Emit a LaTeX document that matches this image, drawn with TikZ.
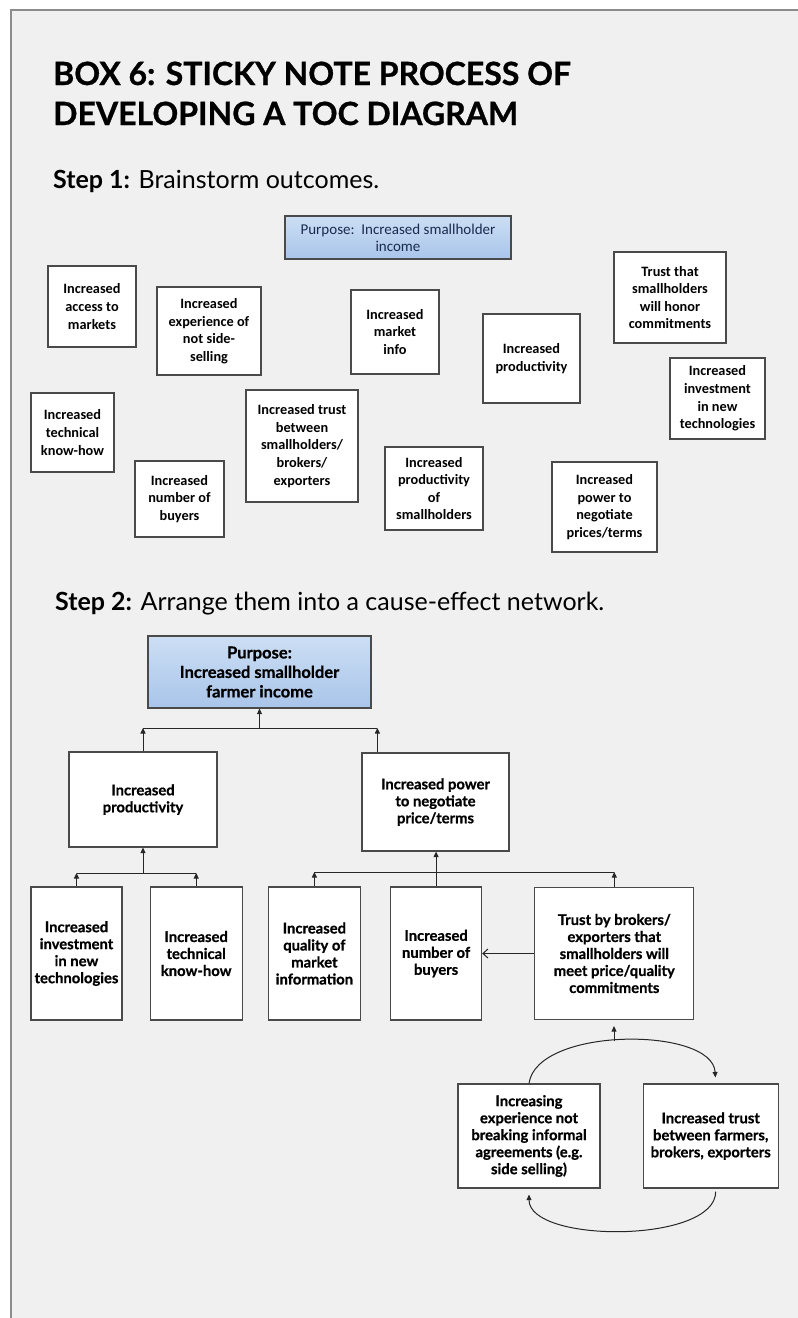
\documentclass[tikz,border=0pt]{standalone}
\usepackage{fontspec}
\setmainfont{Lato}
\newfontfamily\notefont{Carlito}
\newfontfamily\blockfont{Lato}[BoldFeatures={FakeBold=0.8}]
\usepackage{xcolor}
\usetikzlibrary{arrows.meta, positioning}
\definecolor{pagegray}{HTML}{F0F0F0}
\definecolor{framegray}{HTML}{8C8C8C}
\definecolor{edgegray}{HTML}{4A4A4A}
\definecolor{goalblue}{HTML}{A9C5EA}
\definecolor{goallight}{HTML}{CCDEF4}
\definecolor{goalink}{HTML}{1B2B4F}
\tikzstyle{heading} = [anchor=base west, inner sep=0pt, font=\blockfont\bfseries\fontsize{32}{40}\selectfont]
\tikzstyle{steplabel} = [anchor=base west, inner sep=0pt, font=\fontsize{25}{30}\selectfont]
\tikzstyle{note} = [rectangle, draw=edgegray, line width=1.1pt, fill=white, align=center, inner sep=1pt, text=black, font=\notefont\bfseries\fontsize{14.3}{17.6}\selectfont]
\tikzstyle{goalnote} = [note, top color=goallight, bottom color=goalblue, text=goalink, font=\notefont\fontsize{15}{17}\selectfont]
\tikzstyle{block} = [rectangle, draw=edgegray, line width=1.2pt, fill=white, align=center, inner sep=1pt, font=\blockfont\bfseries\fontsize{14.8}{17}\selectfont]
\tikzstyle{goal} = [block, top color=goallight, bottom color=goalblue, font=\blockfont\bfseries\fontsize{16.5}{19.5}\selectfont]
\tikzstyle{arrow} = [line width=1pt, draw=black!85, -{Triangle[length=5.5pt,width=5pt]}]
\tikzstyle{link} = [line width=1pt, draw=black!85]
\tikzstyle{openarrow} = [line width=1pt, draw=black!85, -{Straight Barb[length=5pt,width=9pt]}]

\begin{document}
\begin{tikzpicture}[x=1pt, y=-1pt]
    \useasboundingbox (0,0) rectangle (798,1318);
    \fill[white] (0,0) rectangle (798,1318);
    \fill[pagegray] (11,10) rectangle (798,1318);
    \draw[framegray, line width=2.5pt] (11,1318) -- (11,10) -- (798,10);

    % headings
    \node[heading] (title1) at (53,85) {BOX 6: STICKY NOTE PROCESS OF};
    \node[heading] (title2) at (53,125) {DEVELOPING A TOC DIAGRAM};
    \node[steplabel] (step1) at (53,188) {\textbf{Step 1:} Brainstorm outcomes.};
    \node[steplabel] (step2) at (55,610) {\textbf{Step 2:} Arrange them into a cause-effect network.};

    % step 1: loose sticky notes
    \node[goalnote, minimum width=226pt, minimum height=43pt] (goalidea) at (398,237.5) {Purpose:~~Increased smallholder\\income};
    \node[note, minimum width=88pt, minimum height=81pt] (access) at (92,306.5) {Increased\\access to\\markets};
    \node[note, minimum width=104pt, minimum height=88pt] (sideselling) at (209,331) {Increased\\experience of\\not side-\\selling};
    \node[note, minimum width=88pt, minimum height=84pt] (marketinfo) at (395,332) {Increased\\market\\info};
    \node[note, minimum width=97pt, minimum height=89pt] (prodidea) at (531.5,358.5) {Increased\\productivity};
    \node[note, minimum width=112pt, minimum height=91pt] (honor) at (670,297.5) {Trust that\\smallholders\\will honor\\commitments};
    \node[note, minimum width=95pt, minimum height=81pt] (investidea) at (717.5,398.5) {Increased\\investment\\in new\\technologies};
    \node[note, minimum width=83pt, minimum height=79pt] (knowidea) at (72.5,432.5) {Increased\\technical\\know-how};
    \node[note, minimum width=112pt, minimum height=112pt] (trustidea) at (302,446) {Increased trust\\between\\smallholders/\\brokers/\\exporters};
    \node[note, minimum width=89pt, minimum height=76pt] (buyeridea) at (179.5,499) {Increased\\number of\\buyers};
    \node[note, minimum width=98pt, minimum height=83pt] (prodsmall) at (434,488.5) {Increased\\productivity\\of\\smallholders};
    \node[note, minimum width=105pt, minimum height=90pt] (poweridea) at (604.5,507) {Increased\\power to\\negotiate\\prices/terms};

    % step 2: cause-effect network
    \node[goal, minimum width=223pt, minimum height=72pt] (purpose) at (259.5,672) {Purpose:\\Increased smallholder\\farmer income};
    \node[block, minimum width=148pt, minimum height=95pt] (productivity) at (143,799.5) {Increased\\productivity};
    \node[block, minimum width=147pt, minimum height=98pt] (power) at (435.5,802) {Increased power\\to negotiate\\price/terms};
    \node[block, minimum width=91pt, minimum height=133pt] (investment) at (76.5,953.5) {Increased\\investment\\in new\\technologies};
    \node[block, minimum width=92pt, minimum height=133pt, right=27pt of investment] (knowhow) {Increased\\technical\\know-how};
    \node[block, minimum width=92pt, minimum height=133pt, right=25pt of knowhow] (quality) {Increased\\quality of\\market\\information};
    \node[block, minimum width=91pt, minimum height=133pt, right=29pt of quality] (buyers) {Increased\\number of\\buyers};
    \node[block, minimum width=159pt, minimum height=132pt, right=52pt of buyers] (trust) {Trust by brokers/\\exporters that\\smallholders will\\meet price/quality\\commitments};
    \node[block, minimum width=142pt, minimum height=104pt] (experience) at (529,1136) {Increasing\\experience not\\breaking informal\\agreements (e.g.\\side selling)};
    \node[block, minimum width=135pt, minimum height=104pt, right=42pt of experience] (trustfarm) {Increased trust\\between farmers,\\brokers, exporters};

    \coordinate (topbar) at (0,728);
    \coordinate (prodbar) at (0,873);
    \coordinate (powerbar) at (0,872);
    \coordinate (powerfoot) at ([xshift=16pt]power.north west);
    \coordinate (looptop) at (614,1041);

    \draw[arrow] (productivity.north) -- (productivity.north |- topbar);
    \draw[arrow] (powerfoot) -- (powerfoot |- topbar);
    \draw[link] (productivity.north |- topbar) -- (powerfoot |- topbar);
    \draw[arrow] (purpose.south |- topbar) -- (purpose.south);

    \draw[arrow] (investment.north) -- (investment.north |- prodbar);
    \draw[arrow] (knowhow.north) -- (knowhow.north |- prodbar);
    \draw[link] (investment.north |- prodbar) -- (knowhow.north |- prodbar);
    \draw[arrow] (productivity.south |- prodbar) -- (productivity.south);

    \draw[arrow] (quality.north) -- (quality.north |- powerbar);
    \draw[arrow] (trust.north) -- (trust.north |- powerbar);
    \draw[link] (quality.north |- powerbar) -- (trust.north |- powerbar);
    \draw[arrow] (buyers.north) -- (buyers.north |- power.south);
    \draw[openarrow] (trust.west) -- (trust.west -| buyers.east);

    \draw[arrow, shorten >=6pt] (experience.north) .. controls +(8,-57) and +(-3,-57) .. ([xshift=5pt]trustfarm.north);
    \draw[arrow, shorten >=6pt] (looptop) -- (looptop |- trust.south);
    \draw[arrow, shorten <=3pt, shorten >=6pt] ([xshift=5pt]trustfarm.south) .. controls +(0,55) and +(0,55) .. (experience.south);
\end{tikzpicture}
\end{document}
